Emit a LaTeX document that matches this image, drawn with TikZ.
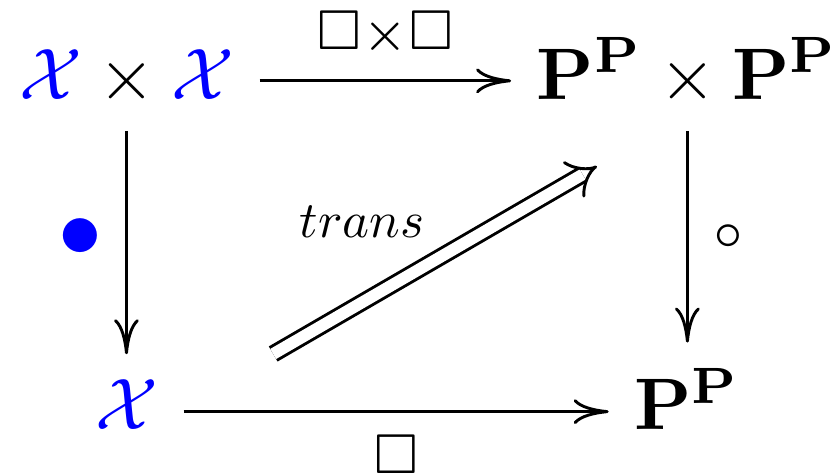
\documentclass[tikz,border=0pt]{standalone}
\usepackage{amsmath, amssymb}
\usepackage{tikz}
\usetikzlibrary{arrows.meta, positioning, calc}

\begin{document}
\begin{tikzpicture}[
  obj/.style={anchor=base, inner sep=0.333em, font=\normalsize},
  lbl/.style={inner sep=0pt},
  arr/.style={-{Computer Modern Rightarrow[length=4.8pt, width=3.4pt]}, line width=0.4pt},
  darr/.style={-{Implies}, double, double distance=1.6pt, line width=0.4pt}
]
  \useasboundingbox (0,0) rectangle (4.040,-2.273);

  % the four corners of the square
  \node[obj] (xx) at (0.609, -0.477) {${\color{blue}\mathcal{X}} \times {\color{blue}\mathcal{X}}$};
  \node[obj] (pp) at (3.310, -0.477) {$\mathbf{P}^{\mathbf{P}} \times \mathbf{P}^{\mathbf{P}}$};
  \node[obj] (x)  at (0.609, -2.070) {${\color{blue}\mathcal{X}}$};
  \node[obj] (p)  at (3.310, -2.070) {$\mathbf{P}^{\mathbf{P}}$};

  % horizontal arrows sit on the math axis
  \draw[arr] ([yshift=2.5pt]xx.base east) -- node[lbl, above=3.2pt] {$\scriptstyle\Box\times\Box$} ([yshift=2.5pt]pp.base west);
  \draw[arr] ([yshift=2.5pt]x.base east) -- node[lbl, below=3.0pt] {$\scriptstyle\Box$} ([yshift=2.5pt]p.base west);

  % vertical arrows
  \draw[arr] (xx) -- node[lbl, left=3.1pt, yshift=0.6pt, font=\fontsize{12.6}{14}\selectfont] {${\color{blue}\bullet}$} (x);
  \draw[arr] (pp) -- node[lbl, right=3.4pt] {$\scriptstyle\circ$} (p);

  % diagonal 2-cell
  \draw[darr] ([shift={(20.1pt,10.4pt)}]x.base) -- node[lbl, midway, above left=3pt and 1.3pt, scale=0.7] {$trans$} ([shift={(-12.4pt,-9.2pt)}]pp.base);
\end{tikzpicture}
\end{document}
